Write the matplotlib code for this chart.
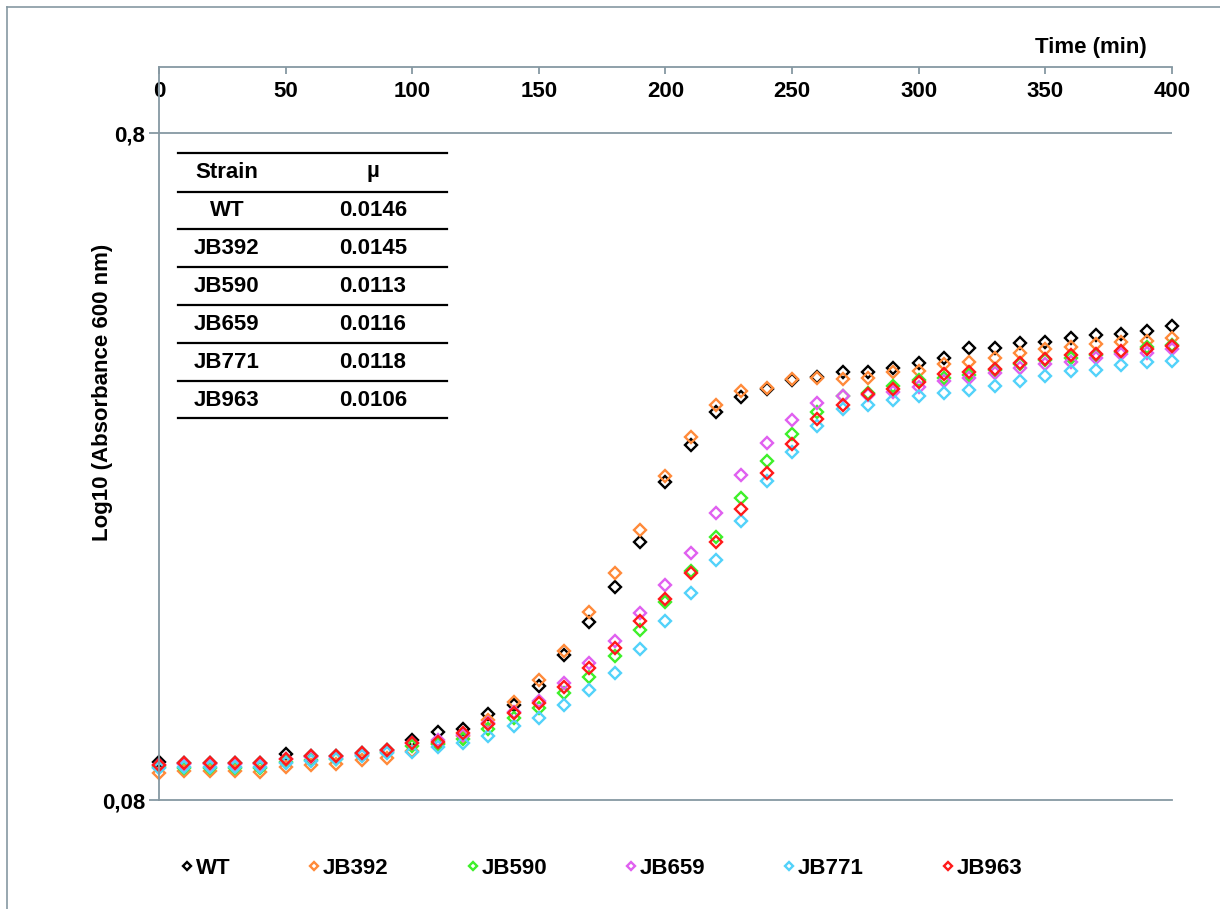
import matplotlib.pyplot as plt
from matplotlib.lines import Line2D
from matplotlib.ticker import NullLocator

plt.rcParams['font.family'] = ['Liberation Sans', 'DejaVu Sans']
plt.rcParams['font.weight'] = 'bold'
plt.rcParams['font.size'] = 16

# sampling times (min)
time = list(range(0, 401, 10))

# absorbance at 600 nm for each strain
wt = [0.0912, 0.0909, 0.0909, 0.0909, 0.0909, 0.0938, 0.0931, 0.0931, 0.0941, 0.0951,
      0.0984, 0.1012, 0.1022, 0.1077, 0.1110, 0.1186, 0.1320, 0.1479, 0.1669, 0.1949,
      0.2398, 0.2725, 0.3054, 0.3216, 0.3306, 0.3410, 0.3446, 0.3506, 0.3506, 0.3554,
      0.3616, 0.3679, 0.3808, 0.3808, 0.3875, 0.3888, 0.3942, 0.3983, 0.3997, 0.4039, 0.4109]
jb392 = [0.0878, 0.0884, 0.0884, 0.0884, 0.0881, 0.0897, 0.0903, 0.0906, 0.0918, 0.0925,
         0.0947, 0.0971, 0.0998, 0.1054, 0.1122, 0.1211, 0.1338, 0.1531, 0.1752, 0.2032,
         0.2448, 0.2801, 0.3128, 0.3283, 0.3317, 0.3422, 0.3434, 0.3422, 0.3434, 0.3506,
         0.3518, 0.3604, 0.3629, 0.3679, 0.3744, 0.3796, 0.3822, 0.3862, 0.3888, 0.3902, 0.3942]
jb590 = [0.0897, 0.0893, 0.0893, 0.0893, 0.0893, 0.0912, 0.0918, 0.0922, 0.0934, 0.0944,
         0.0964, 0.0971, 0.0988, 0.1022, 0.1062, 0.1099, 0.1157, 0.1223, 0.1315, 0.1439,
         0.1585, 0.1764, 0.1983, 0.2269, 0.2578, 0.2830, 0.3054, 0.3227, 0.3261, 0.3340,
         0.3410, 0.3434, 0.3470, 0.3530, 0.3604, 0.3654, 0.3679, 0.3718, 0.3756, 0.3822, 0.3848]
jb659 = [0.0903, 0.0906, 0.0906, 0.0906, 0.0906, 0.0922, 0.0928, 0.0928, 0.0938, 0.0947,
         0.0974, 0.0984, 0.1001, 0.1044, 0.1084, 0.1126, 0.1198, 0.1284, 0.1385, 0.1526,
         0.1680, 0.1877, 0.2155, 0.2457, 0.2744, 0.2970, 0.3150, 0.3227, 0.3238, 0.3272,
         0.3329, 0.3398, 0.3434, 0.3494, 0.3554, 0.3604, 0.3629, 0.3679, 0.3731, 0.3744, 0.3796]
jb771 = [0.0893, 0.0897, 0.0897, 0.0897, 0.0897, 0.0909, 0.0915, 0.0922, 0.0931, 0.0941,
         0.0944, 0.0961, 0.0974, 0.0998, 0.1033, 0.1062, 0.1110, 0.1170, 0.1240, 0.1347,
         0.1484, 0.1635, 0.1832, 0.2096, 0.2406, 0.2660, 0.2910, 0.3085, 0.3128, 0.3183,
         0.3227, 0.3261, 0.3295, 0.3340, 0.3398, 0.3458, 0.3518, 0.3530, 0.3591, 0.3629, 0.3641]
jb963 = [0.0903, 0.0909, 0.0909, 0.0909, 0.0909, 0.0922, 0.0931, 0.0931, 0.0941, 0.0951,
         0.0974, 0.0977, 0.1008, 0.1040, 0.1080, 0.1118, 0.1182, 0.1262, 0.1352, 0.1484,
         0.1601, 0.1752, 0.1949, 0.2185, 0.2474, 0.2734, 0.2981, 0.3128, 0.3249, 0.3306,
         0.3387, 0.3482, 0.3506, 0.3542, 0.3616, 0.3667, 0.3718, 0.3731, 0.3769, 0.3796, 0.3835]

strains = ['WT', 'JB392', 'JB590', 'JB659', 'JB771', 'JB963']
mu = ['0.0146', '0.0145', '0.0113', '0.0116', '0.0118', '0.0106']
series = [wt, jb392, jb590, jb659, jb771, jb963]
colors = ['black', '#ff8a3a', '#3ef02a', '#e060f0', '#52d2fa', '#ff1a1a']

gray = '#8698a2'

fig = plt.figure(figsize=(12.2, 9.09), dpi=100)
ax = fig.add_axes([0.1303, 0.1199, 0.8303, 0.8064])

handles = []
for name, vals, col in zip(strains, series, colors):
    h, = ax.plot(time, vals, ls='none', marker='D', ms=5.7, mfc='none',
                 mec=col, mew=1.7, clip_on=False, label=name)
    handles.append(h)

ax.set_yscale('log')
ax.set_ylim(0.08, 1.005)
ax.set_xlim(0, 400)
ax.set_yticks([0.08, 0.8])
ax.set_yticklabels(['0,08', '0,8'])
ax.yaxis.set_minor_locator(NullLocator())
ax.axhline(0.8, color=gray, lw=1.3, zorder=0)

# x axis sits on top, labels hang inside
ax.xaxis.tick_top()
ax.set_xticks(range(0, 401, 50))
ax.tick_params(axis='x', direction='in', length=5, width=1.3, color=gray,
               labelsize=16, pad=-25)
ax.tick_params(axis='y', direction='out', length=7, width=1.3, color=gray,
               labelsize=16, pad=3)
ax.spines['right'].set_visible(False)
for s in ['top', 'left', 'bottom']:
    ax.spines[s].set_color(gray)
    ax.spines[s].set_linewidth(1.3)

fig.text(1091 / 1220, 1 - 47 / 909, 'Time (min)', ha='center', va='center')
fig.text(103 / 1220, 1 - 392 / 909, 'Log10 (Absorbance 600 nm)',
         rotation=90, ha='center', va='center')

# growth-rate table
x0, x1 = 178 / 1220, 447 / 1220
rule_y = [153, 192, 229, 267, 305, 343, 381, 418]
for y in rule_y:
    fig.add_artist(Line2D([x0, x1], [1 - y / 909] * 2, color='black', lw=1.6))
row_y = [172, 211, 248, 286, 324, 362, 400]
for y, a, b in zip(row_y, ['Strain'] + strains, ['µ'] + mu):
    fig.text(227 / 1220, 1 - y / 909, a, ha='center', va='center')
    fig.text(373 / 1220, 1 - y / 909, b, ha='center', va='center')

# outer frame (left and top edges)
fig.add_artist(Line2D([7 / 1220, 7 / 1220], [0, 1 - 7 / 909], color=gray, lw=1.2))
fig.add_artist(Line2D([7 / 1220, 1], [1 - 7 / 909] * 2, color=gray, lw=1.2))

fig.legend(handles=handles, ncol=6, loc='center', bbox_to_anchor=(0.493, 0.045),
           frameon=False, fontsize=16, handlelength=0.55, handletextpad=0.12,
           columnspacing=3.5, markerscale=0.7)

fig.savefig('out.png', dpi=100)
